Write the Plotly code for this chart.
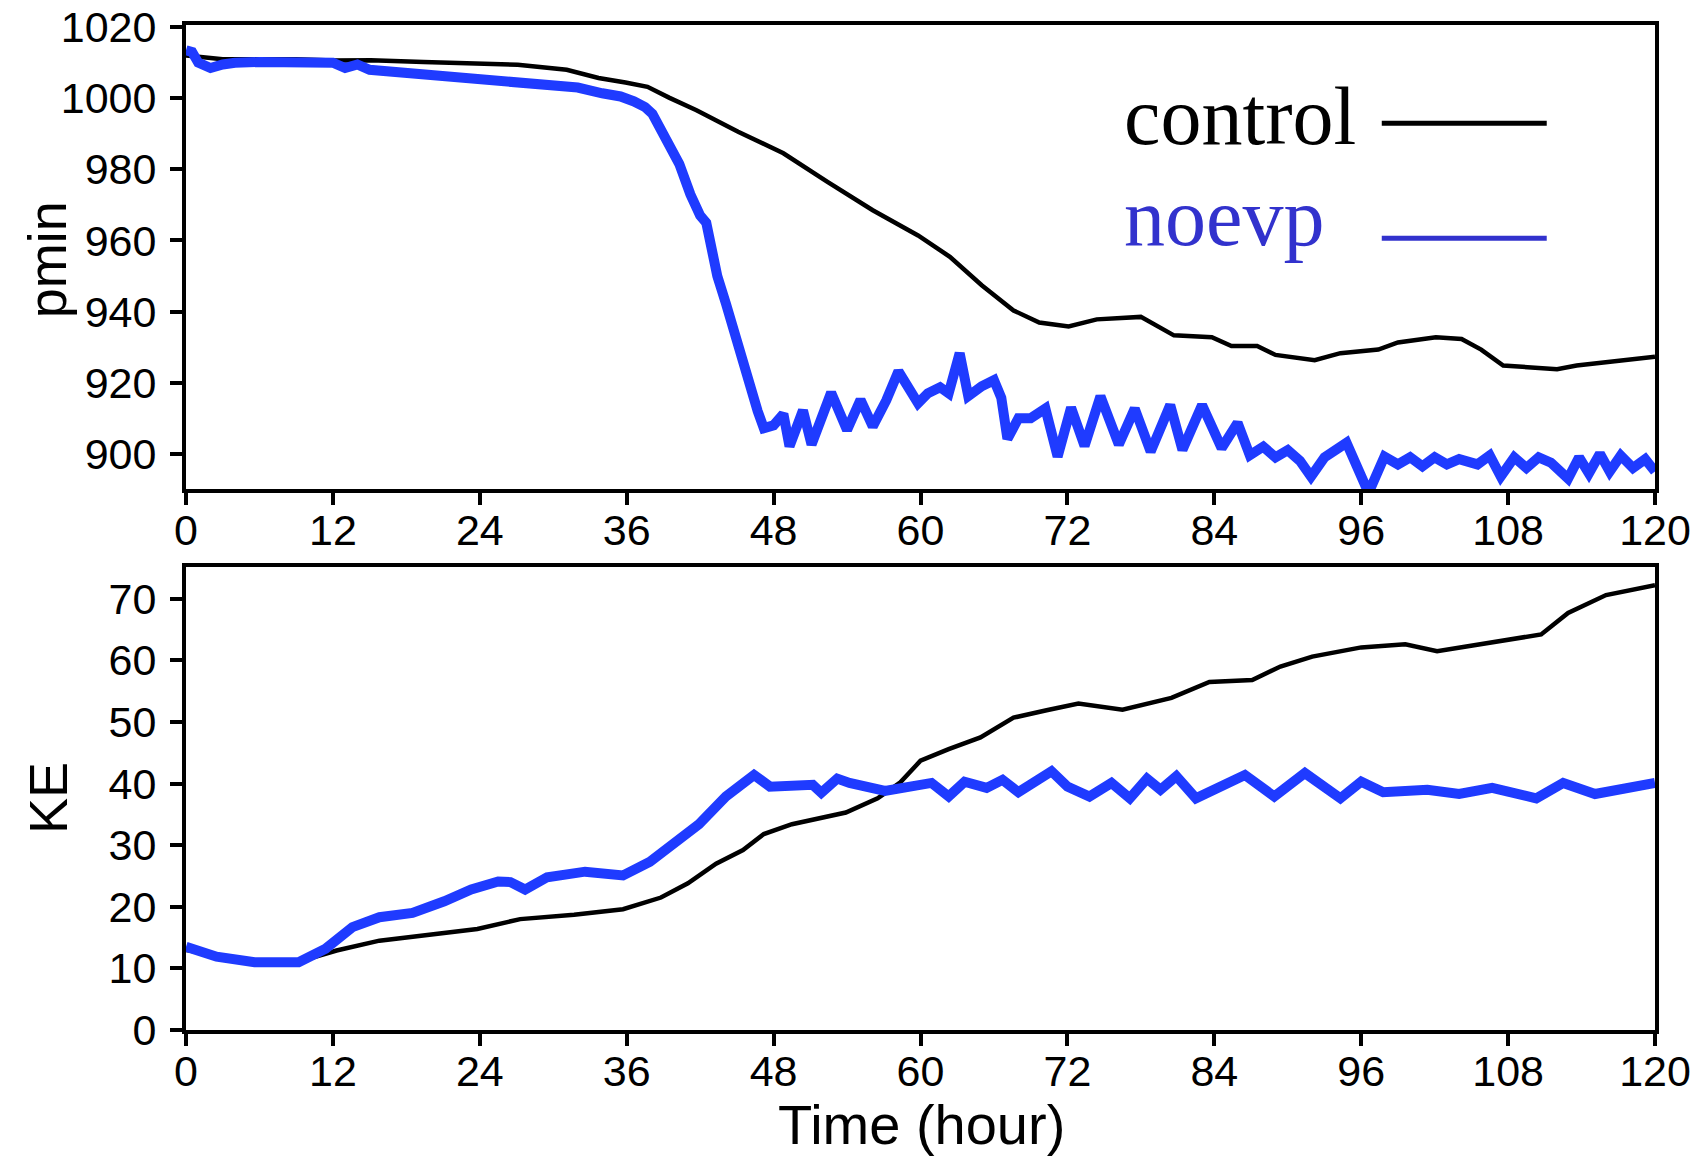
import plotly.graph_objects as go

# ---------------- data ----------------
# top panel: minimum pressure (hPa)
ctl_p_t = [0, 3, 6, 9, 12, 15.1, 19.4, 24.0, 27.1, 31.1, 33.7, 35.9, 37.7, 39.5, 41.7, 45.1, 48.8,
           52.4, 56.1, 59.8, 62.4, 65.0, 67.6, 69.7, 72.1, 74.4, 78.0, 80.7, 83.8, 85.4, 87.5, 89.0,
           92.2, 94.3, 97.4, 99.0, 102.1, 104.2, 105.8, 107.6, 112.0, 113.6, 117.3, 120]
ctl_p = [1012, 1011, 1011, 1011, 1010.6, 1010.7, 1010.2, 1009.9, 1009.4, 1008.0, 1005.7, 1004.4,
         1003.2, 1000.1, 996.6, 990.6, 984.5, 976.5, 968.5, 961.4, 955.4, 947.4, 940.3, 936.9,
         935.8, 937.8, 938.5, 933.3, 932.8, 930.3, 930.3, 927.8, 926.3, 928.3, 929.3, 931.3,
         932.8, 932.3, 929.3, 924.8, 923.8, 924.8, 926.3, 927.3]

noe_p_t = [0, 0.5, 1, 1.5, 2, 3, 4, 6, 8, 10, 11, 12, 13, 14, 15, 16, 18, 20, 21.3, 23, 24.9, 27,
           30.4, 32, 34, 35.5, 36.6, 37.5, 38.1, 38.7, 39.1, 40.3, 41.2, 42, 42.5, 43.4, 44.1, 45.1,
           46.2, 46.7, 47.2, 48, 48.8, 49.3, 50.4, 51.1, 52.7, 54.0, 55.1, 56.1, 57.2, 58.2, 59.8,
           60.6, 61.6, 62.3, 63.2, 63.9, 65, 66.0, 66.6, 67.1, 68, 69, 70.2, 71.2, 72.3, 73.4, 74.7,
           76.2, 77.5, 78.8, 80.4, 81.4, 83.0, 84.6, 85.9, 86.9, 88, 89, 90, 91, 91.9, 93, 94.8,
           95.7, 96.6, 97.9, 99, 100, 101, 102, 103, 104, 105.5, 106.5, 107.4, 108.5, 109.5, 110.5,
           111.5, 112.9, 113.8, 114.6, 115.5, 116.3, 117.2, 118.2, 119.2, 120]
noe_p = [1013.5, 1013, 1010, 1009, 1008.5, 1009.5, 1010, 1010.2, 1010.2, 1010.2, 1009.5, 1010,
         1008.5, 1009.5, 1008, 1007.7, 1007, 1006, 1005.7, 1005.5, 1004.7, 1004.5, 1003.2, 1003,
         1001.4, 1000.5, 999.1, 997.5, 995.6, 992, 988.6, 981.5, 973, 967, 965, 950, 942.3, 930,
         917.2, 912, 907.2, 908, 911.2, 902.1, 912.2, 902.6, 917.2, 906.7, 915.2, 907.7, 915,
         923.2, 914.2, 917, 918.7, 917, 928.3, 916.2, 919, 920.7, 915.7, 904.2, 910, 910, 912.7,
         899.2, 913, 902.2, 916.2, 902.6, 912.7, 900.6, 913.7, 901.1, 913.7, 901.6, 908.7, 899.6,
         902, 899, 901, 898, 893.6, 899, 903.1, 896, 889, 899.2, 897, 899, 896.5, 899, 897, 898.5,
         897, 899.5, 893.6, 899, 896, 899, 897.5, 893, 899, 894.5, 900, 895, 899.5, 896, 898.5, 895]

# bottom panel: kinetic energy
ctl_ke_t = [0, 3, 6, 9.6, 12.3, 15.8, 20.2, 23.8, 27.3, 31.7, 35.7, 38.8, 41.0, 43.3, 45.5, 47.2,
            49.5, 53.9, 56.5, 58.3, 60.0, 62.3, 64.9, 67.6, 70.3, 72.9, 76.5, 80.5, 83.6, 87.1,
            89.4, 92.0, 96.0, 99.6, 102.2, 107.6, 110.7, 112.9, 116.0, 120]
ctl_ke = [13, 12, 11, 11.3, 12.9, 14.5, 15.6, 16.4, 18.0, 18.7, 19.6, 21.5, 23.8, 27.0, 29.2,
          31.8, 33.4, 35.3, 37.6, 40.1, 43.7, 45.6, 47.5, 50.7, 51.9, 53.0, 52.0, 53.9, 56.5,
          56.8, 59.0, 60.6, 62.1, 62.6, 61.5, 63.2, 64.2, 67.7, 70.6, 72.2]

noe_ke_t = [0, 2.5, 5.6, 9.2, 11.4, 13.6, 15.8, 18.5, 21.1, 23.3, 25.5, 26.5, 27.7, 29.5, 32.6,
            35.7, 37.9, 39.7, 41.9, 44.1, 46.4, 47.7, 49.5, 51.2, 51.9, 53.2, 54.2, 57.1, 60.9,
            62.3, 63.6, 65.4, 66.7, 68.0, 70.7, 72.0, 73.8, 75.6, 77.1, 78.5, 79.6, 80.9, 82.5,
            84.5, 86.5, 88.9, 91.4, 94.3, 96.0, 97.8, 101.4, 104.0, 106.7, 110.3, 112.5, 115.1,
            117.7, 120]
noe_ke = [13.5, 11.9, 11.0, 11.0, 13.2, 16.7, 18.3, 19.0, 20.9, 22.8, 24.1, 24.0, 22.8, 24.8,
          25.7, 25.1, 27.3, 30.2, 33.4, 37.9, 41.4, 39.5, 39.8, 39.8, 38.5, 40.8, 40.1, 38.8,
          40.1, 37.9, 40.3, 39.3, 40.6, 38.6, 42.0, 39.5, 37.9, 40.1, 37.6, 40.8, 39.0, 41.2,
          37.6, 39.5, 41.4, 37.9, 41.7, 37.6, 40.3, 38.6, 39.0, 38.3, 39.3, 37.6, 40.1, 38.3,
          39.3, 40.1]

x_ticks = [0, 12, 24, 36, 48, 60, 72, 84, 96, 108, 120]
p_ticks = [900, 920, 940, 960, 980, 1000, 1020]
ke_ticks = [0, 10, 20, 30, 40, 50, 60, 70]

BLACK = "#000000"
BLUE = "#1f3bff"
LEG_BLUE = "#3232cd"

fig = go.Figure()
fig.add_trace(go.Scatter(x=ctl_p_t, y=ctl_p, mode="lines", line=dict(color=BLACK, width=4.5),
                         xaxis="x", yaxis="y", name="control"))
fig.add_trace(go.Scatter(x=noe_p_t, y=noe_p, mode="lines", line=dict(color=BLUE, width=10),
                         xaxis="x", yaxis="y", name="noevp"))
fig.add_trace(go.Scatter(x=ctl_ke_t, y=ctl_ke, mode="lines", line=dict(color=BLACK, width=4.5),
                         xaxis="x2", yaxis="y2", name="control", showlegend=False))
fig.add_trace(go.Scatter(x=noe_ke_t, y=noe_ke, mode="lines", line=dict(color=BLUE, width=10),
                         xaxis="x2", yaxis="y2", name="noevp", showlegend=False))

tickfont = dict(family="Liberation Sans, Arial, sans-serif", size=43, color="black")
axis_common = dict(showline=True, linewidth=4, linecolor="black", mirror=True,
                   ticks="outside", ticklen=12, tickwidth=4, tickcolor="black",
                   showgrid=False, zeroline=False, tickfont=tickfont, automargin=False)

fig.update_layout(
    width=1703, height=1159,
    margin=dict(l=186, r=48, t=25, b=129),
    paper_bgcolor="white", plot_bgcolor="white",
    showlegend=False,
    xaxis=dict(domain=[0, 1], range=[0, 120], anchor="y", tickvals=x_ticks,
               ticktext=[str(v) for v in x_ticks], ticklabelstandoff=-12, **axis_common),
    yaxis=dict(domain=[0.538, 1.0], range=[890, 1020.6], anchor="x", tickvals=p_ticks,
               ticktext=[str(v) for v in p_ticks], ticklabelstandoff=5, **axis_common),
    xaxis2=dict(domain=[0, 1], range=[0, 120], anchor="y2", tickvals=x_ticks,
                ticktext=[str(v) for v in x_ticks], ticklabelstandoff=-12, **axis_common),
    yaxis2=dict(domain=[0, 0.461], range=[0, 75.2], anchor="x2", tickvals=ke_ticks,
                ticktext=[str(v) for v in ke_ticks], ticklabelstandoff=5, **axis_common),
)

title_font = dict(family="Liberation Sans, Arial, sans-serif", size=54, color="black")
fig.add_annotation(text="pmin", xref="paper", yref="paper", x=-0.0945, y=0.766,
                   textangle=-90, showarrow=False, font=title_font,
                   xanchor="center", yanchor="middle")
fig.add_annotation(text="KE", xref="paper", yref="paper", x=-0.094, y=0.2308,
                   textangle=-90, showarrow=False, font=title_font,
                   xanchor="center", yanchor="middle")
fig.add_annotation(text="Time (hour)", xref="paper", yref="paper", x=0.501, y=-0.094,
                   showarrow=False,
                   font=dict(family="Liberation Sans, Arial, sans-serif", size=56, color="black"),
                   xanchor="center", yanchor="middle")

# legend (text left of line sample)
leg_font = "Liberation Serif, Times New Roman, serif"
fig.add_annotation(text="control", xref="paper", yref="paper", x=0.637, y=0.9085,
                   showarrow=False, font=dict(family=leg_font, size=82, color="black"),
                   xanchor="left", yanchor="middle")
fig.add_annotation(text="noevp", xref="paper", yref="paper", x=0.637, y=0.808,
                   showarrow=False, font=dict(family=leg_font, size=82, color=LEG_BLUE),
                   xanchor="left", yanchor="middle")
fig.add_shape(type="line", xref="paper", yref="paper", x0=0.814, x1=0.9263, y0=0.9022, y1=0.9022,
              line=dict(color="black", width=5))
fig.add_shape(type="line", xref="paper", yref="paper", x0=0.814, x1=0.9263, y0=0.7878, y1=0.7878,
              line=dict(color=LEG_BLUE, width=5))

fig.write_html("out.html")
